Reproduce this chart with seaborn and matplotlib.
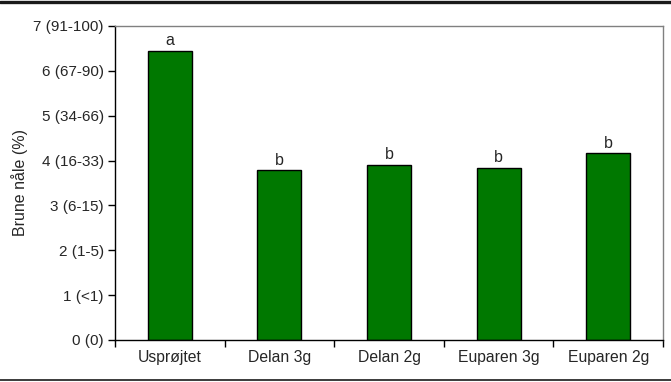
import matplotlib
matplotlib.use("Agg")
import matplotlib.pyplot as plt
import seaborn as sns
import pandas as pd
import numpy as np
from matplotlib.lines import Line2D

categories = ["Usprøjtet", "Delan 3g", "Delan 2g", "Euparen 3g", "Euparen 2g"]
values = [6.44, 3.78, 3.91, 3.84, 4.16]
letters = ["a", "b", "b", "b", "b"]
ytick_labels = ["0 (0)", "1 (<1)", "2 (1-5)", "3 (6-15)", "4 (16-33)", "5 (34-66)", "6 (67-90)", "7 (91-100)"]

sns.set_style("white")
plt.rcParams['font.family'] = ['Liberation Sans', 'DejaVu Sans']

df = pd.DataFrame({"cat": categories, "val": values})

fig = plt.figure(figsize=(6.71, 3.82), dpi=100)
ax = fig.add_axes([115/671, 42/382, (663-115)/671, (340-26)/382])
sns.barplot(data=df, x="cat", y="val", color="#007800", saturation=1,
            width=0.4, edgecolor="black", linewidth=1, ax=ax)

ax.set_ylim(0, 7)
ax.set_xlim(-0.5, len(categories) - 0.5)
ax.set_yticks(range(8))
ax.set_yticklabels(ytick_labels, fontsize=11)
ax.tick_params(axis='y', which='major', left=True, length=5, width=1, color='black', pad=3)
ax.set_xticks(range(len(categories)))
ax.set_xticklabels(categories, fontsize=11.3)
ax.tick_params(axis='x', which='major', length=0, pad=7)
ax.set_xticks(np.arange(-0.5, len(categories), 1.0), minor=True)
ax.tick_params(axis='x', which='minor', bottom=True, length=5, width=1, color='black')
ax.set_xlabel("")
ax.set_ylabel("Brune nåle (%)", fontsize=11.5, labelpad=4)

for s in ['left', 'bottom']:
    ax.spines[s].set_color('black')
    ax.spines[s].set_linewidth(1)
for s in ['top', 'right']:
    ax.spines[s].set_color('#808080')
    ax.spines[s].set_linewidth(1)

for i, (v, l) in enumerate(zip(values, letters)):
    ax.text(i, v + 0.06, l, ha='center', va='bottom', fontsize=11.5)

fig.add_artist(Line2D([0, 1], [1 - 1.5/382, 1 - 1.5/382], color='#1a1a1a', linewidth=2.4, transform=fig.transFigure))
fig.add_artist(Line2D([0, 1], [2/382, 2/382], color='#1a1a1a', linewidth=1.2, transform=fig.transFigure))

fig.savefig("out.png", dpi=100)
